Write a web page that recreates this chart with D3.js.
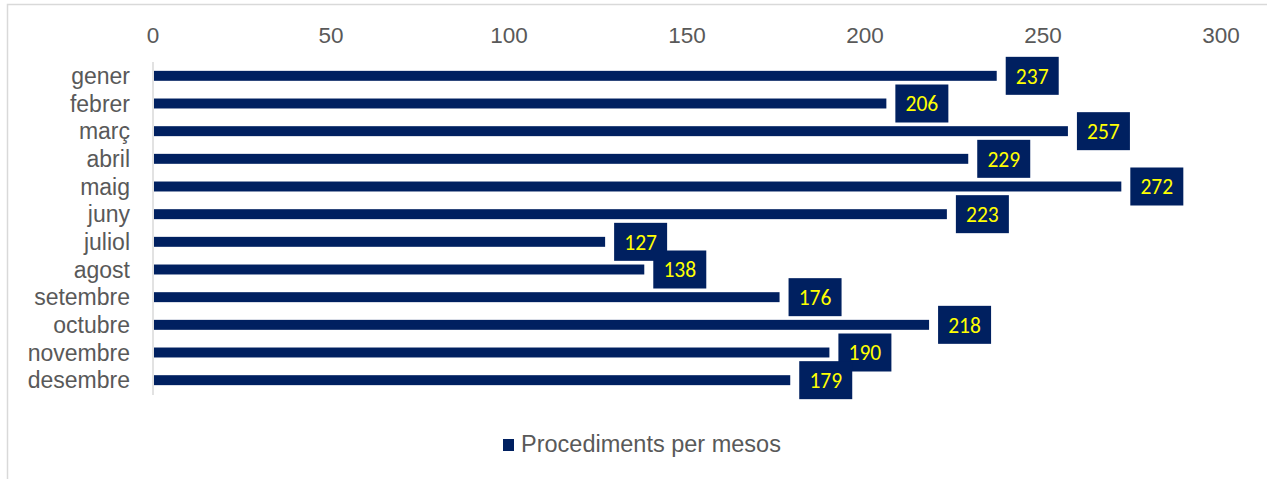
<!DOCTYPE html>
<html><head><meta charset="utf-8">
<script src="https://cdn.jsdelivr.net/npm/d3@7"></script>
<style>body{margin:0;background:#fff;}svg{display:block;}</style>
</head><body>
<svg id="c" width="1267" height="479"></svg>
<script>
const months = ["gener","febrer","març","abril","maig","juny","juliol","agost","setembre","octubre","novembre","desembre"];
const values = [237,206,257,229,272,223,127,138,176,218,190,179];
const ticks = [0,50,100,150,200,250,300];
const seriesName = "Procediments per mesos";

const svg = d3.select("#c");
const color = "#002060";
svg.append("rect").attr("x",7.5).attr("y",4.5).attr("width",1300).attr("height",500)
  .attr("fill","none").attr("stroke","#d9d9d9").attr("stroke-width",1.5);

const x = d3.scaleLinear().domain([0,300]).range([153,1221]);
const y = d3.scaleBand().domain(months).range([62,394]).paddingInner(0.64).paddingOuter(0.32);

svg.append("g").selectAll("text").data(ticks).join("text")
  .attr("x",d=>x(d)).attr("y",43).attr("text-anchor","middle")
  .attr("font-family","Liberation Sans, Arial, sans-serif").attr("font-size",22.5)
  .attr("fill","#595959").text(d=>d);

svg.append("line").attr("x1",x(0)).attr("x2",x(0)).attr("y1",62).attr("y2",395)
  .attr("stroke","#d9d9d9").attr("stroke-width",1.5);

svg.append("g").selectAll("text").data(months).join("text")
  .attr("x",130).attr("y",d=>y(d)+y.bandwidth()/2).attr("dy","0.35em")
  .attr("text-anchor","end").attr("font-family","Liberation Sans, Arial, sans-serif")
  .attr("font-size",23).attr("fill","#595959").text(d=>d);

svg.append("g").selectAll("rect").data(values).join("rect")
  .attr("x",x(0)+1).attr("y",(d,i)=>y(months[i]))
  .attr("width",d=>x(d)-x(0)-1).attr("height",y.bandwidth())
  .attr("fill",color);

const lg = svg.append("g").selectAll("g").data(values).join("g")
  .attr("transform",(d,i)=>`translate(${x(d)+9},${y(months[i])+y.bandwidth()/2})`);
lg.append("rect").attr("x",0).attr("y",-19).attr("width",53).attr("height",38).attr("fill",color);
lg.append("text").attr("x",26.5).attr("y",0).attr("dy","0.37em").attr("text-anchor","middle")
  .attr("font-family","Carlito, Lato, 'Open Sans', sans-serif").attr("font-size",21.5)
  .attr("fill","#ffff00").text(d=>d);

svg.append("rect").attr("x",503).attr("y",439).attr("width",11).attr("height",12).attr("fill",color);
svg.append("text").attr("x",521).attr("y",452).attr("font-family","Liberation Sans, Arial, sans-serif")
  .attr("font-size",23.5).attr("fill","#595959").text(seriesName);
</script>
</body></html>
